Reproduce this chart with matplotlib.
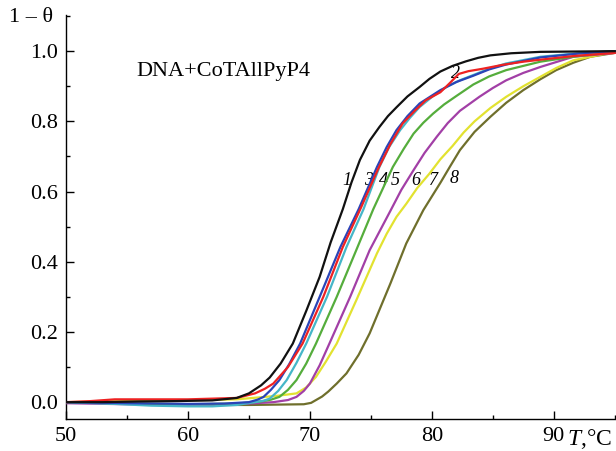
import matplotlib
matplotlib.use("Agg")
import matplotlib.pyplot as plt
from matplotlib.ticker import MultipleLocator

plt.rcParams['font.family'] = ['Liberation Serif', 'DejaVu Serif']
plt.rcParams['mathtext.fontset'] = 'custom'
plt.rcParams['mathtext.rm'] = 'Liberation Serif'
plt.rcParams['mathtext.it'] = 'Liberation Serif:italic'

# ---- data ----
T1 = [50, 53, 56, 59, 62, 64, 65, 66, 66.7, 67.6, 68.6, 69.7, 70.8, 71.7, 72.7, 73.4, 74.1, 74.9, 75.7, 76.4, 77.1, 78.0, 79.0, 79.8, 80.7, 81.7, 82.8, 83.8, 84.8, 86.5, 88.9, 95]
v1 = [0.0, 0.0, 0.002, 0.003, 0.005, 0.012, 0.025, 0.048, 0.07, 0.11, 0.167, 0.26, 0.357, 0.455, 0.55, 0.625, 0.69, 0.745, 0.784, 0.815, 0.84, 0.871, 0.898, 0.921, 0.942, 0.958, 0.971, 0.981, 0.988, 0.994, 0.998, 1.0]

T2 = [50, 52, 54, 56, 58, 60, 62, 64, 65.5, 66.3, 67.0, 68.2, 69.4, 71.1, 72.7, 74.2, 75.6, 76.6, 77.6, 78.6, 79.5, 80.7, 81.5, 82.2, 83.0, 84.2, 85.8, 87.5, 89.5, 91.6, 95]
v2 = [0.0, 0.003, 0.008, 0.008, 0.008, 0.008, 0.01, 0.012, 0.025, 0.038, 0.053, 0.1, 0.167, 0.3, 0.442, 0.555, 0.665, 0.735, 0.794, 0.83, 0.86, 0.883, 0.91, 0.935, 0.943, 0.95, 0.961, 0.97, 0.978, 0.986, 0.995]

T3 = [50, 55, 60, 63, 65, 65.7, 66.2, 66.8, 67.5, 68.3, 69.2, 70.8, 72.5, 74.0, 75.5, 76.3, 77.1, 78.0, 79.0, 80.7, 82.0, 83.4, 84.7, 86.1, 88.9, 92, 95]
v3 = [0.0, -0.003, -0.005, -0.004, 0.0, 0.007, 0.015, 0.035, 0.063, 0.108, 0.167, 0.3, 0.442, 0.55, 0.67, 0.727, 0.775, 0.815, 0.851, 0.889, 0.912, 0.93, 0.948, 0.962, 0.982, 0.993, 1.0]

T4 = [50, 54, 57, 60, 62, 64, 65.5, 66.2, 66.7, 67.4, 68.1, 68.9, 69.7, 71.4, 73.0, 74.4, 75.7, 76.5, 77.4, 78.2, 79.0, 80.1, 81.2, 82.3, 83.4, 84.7, 86.1, 88.9, 92, 95]
v4 = [0.0, -0.005, -0.01, -0.012, -0.012, -0.008, 0.0, 0.004, 0.01, 0.032, 0.063, 0.112, 0.167, 0.3, 0.442, 0.55, 0.67, 0.727, 0.775, 0.81, 0.841, 0.872, 0.898, 0.917, 0.932, 0.95, 0.965, 0.984, 0.994, 1.0]

T5 = [50, 55, 60, 64, 66, 66.8, 67.5, 68.2, 68.9, 69.7, 70.5, 72.2, 73.8, 75.2, 76.0, 76.8, 77.7, 78.5, 79.3, 80.1, 81.0, 82.0, 83.4, 84.7, 86.1, 88.9, 91.6, 95]
v5 = [0.0, -0.004, -0.006, -0.004, 0.002, 0.007, 0.015, 0.035, 0.063, 0.11, 0.167, 0.3, 0.433, 0.55, 0.61, 0.67, 0.722, 0.765, 0.796, 0.822, 0.848, 0.872, 0.905, 0.928, 0.946, 0.97, 0.984, 0.998]

T6 = [50, 55, 60, 64, 67, 68.2, 68.9, 69.5, 70.0, 70.8, 71.6, 73.3, 74.9, 76.6, 77.5, 78.5, 79.4, 80.4, 81.3, 82.3, 83.1, 83.9, 85.0, 86.1, 87.5, 88.9, 91.6, 95]
v6 = [-0.003, -0.006, -0.008, -0.006, 0.0, 0.006, 0.015, 0.032, 0.053, 0.105, 0.167, 0.3, 0.433, 0.545, 0.605, 0.661, 0.71, 0.756, 0.795, 0.83, 0.85, 0.87, 0.895, 0.917, 0.938, 0.955, 0.984, 0.995]

T7 = [50, 55, 60, 64, 67.3, 68.9, 69.7, 70.5, 71.3, 72.2, 73.8, 75.5, 76.3, 77.1, 77.9, 78.8, 79.8, 80.7, 81.7, 82.6, 83.5, 84.8, 86.1, 87.5, 88.9, 90.2, 91.6, 94.3, 95]
v7 = [0.0, 0.003, 0.005, 0.008, 0.018, 0.025, 0.042, 0.072, 0.115, 0.167, 0.29, 0.424, 0.48, 0.528, 0.565, 0.61, 0.651, 0.692, 0.73, 0.768, 0.8, 0.838, 0.87, 0.9, 0.927, 0.952, 0.974, 0.993, 0.995]

T8 = [50, 55, 60, 65, 69.5, 70.1, 70.5, 71.0, 71.5, 72.2, 73.0, 74.0, 74.9, 76.6, 77.9, 79.3, 80.7, 81.5, 82.3, 83.5, 84.8, 86.1, 87.5, 88.9, 90.2, 91.6, 93.0, 95]
v8 = [0.0, -0.004, -0.008, -0.008, -0.006, -0.002, 0.006, 0.016, 0.03, 0.053, 0.082, 0.135, 0.196, 0.338, 0.452, 0.547, 0.625, 0.672, 0.718, 0.77, 0.813, 0.853, 0.889, 0.92, 0.946, 0.967, 0.984, 0.995]

colors = ['#111111', '#ee2222', '#2a44b8', '#45b6c8', '#55ad3c', '#a23fa6', '#e2e230', '#6f6f2c']
labels = ['1', '2', '3', '4', '5', '6', '7', '8']
label_x = [73.0, 81.9, 74.8, 76.0, 77.0, 78.7, 80.1, 81.8]
label_y = [0.632, 0.936, 0.632, 0.632, 0.632, 0.632, 0.632, 0.638]

yticks = [0.0, 0.2, 0.4, 0.6, 0.8, 1.0]
xticks = [50, 60, 70, 80, 90]
title_text = 'DNA+CoTAllPyP4'

# ---- figure ----
fig = plt.figure(figsize=(6.16, 4.51), dpi=100)
ax = fig.add_axes([66/616, 32/451, 550/616, 404/451])

series = [(T1, v1), (T2, v2), (T3, v3), (T4, v4), (T5, v5), (T6, v6), (T7, v7), (T8, v8)]
order = [7, 6, 5, 4, 1, 3, 2, 0]
for i in order:
    T, v = series[i]
    ax.plot(T, v, color=colors[i], lw=1.6, solid_joinstyle='round', zorder=3 + (8 - i) * 0.1)

for lab, lx, ly in zip(labels, label_x, label_y):
    ax.text(lx, ly, lab, fontsize=13, style='italic', ha='center', va='center')

ax.text(55.8, 0.943, title_text, fontsize=16, ha='left', va='center')

ax.set_xlim(50, 95.1)
ax.set_ylim(-0.048, 1.103)
ax.set_xticks(xticks)
ax.set_yticks(yticks)
ax.set_xticklabels([str(t) for t in xticks])
ax.set_yticklabels([f'{t:.1f}' for t in yticks])
ax.xaxis.set_minor_locator(MultipleLocator(5))
ax.yaxis.set_minor_locator(MultipleLocator(0.1))
ax.tick_params(which='both', direction='in', top=False, right=False, width=1.0, labelsize=16, pad=6)
ax.tick_params(which='major', length=6)
ax.tick_params(which='minor', length=3)
for s in ['top', 'right']:
    ax.spines[s].set_visible(False)
for s in ['left', 'bottom']:
    ax.spines[s].set_linewidth(1.0)

fig.text(9/616, 1 - 17/451, '1 – θ', fontsize=16, ha='left', va='center')
fig.text(567/616, 1 - 439/451, r'$\mathit{T}$,°C', fontsize=17, ha='left', va='center')

fig.savefig('out.png', dpi=100)
